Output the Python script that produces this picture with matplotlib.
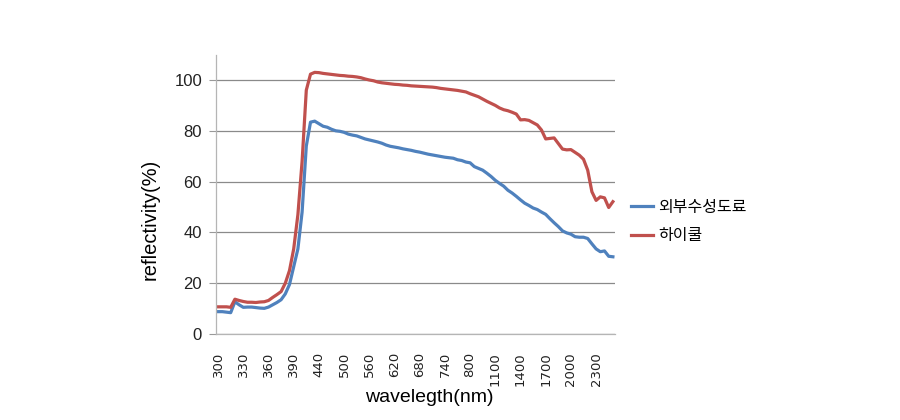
import matplotlib
matplotlib.use('Agg')
import matplotlib.pyplot as plt
import numpy as np

plt.rcParams['font.family'] = ['Liberation Sans', 'Noto Sans CJK KR', 'DejaVu Sans']
plt.rcParams['axes.unicode_minus'] = False

# 파장 (카테고리 축: 300-400 5nm, 410-800 10nm, 850-2500 50nm)
wavelengths = [300, 305, 310, 315, 320, 325, 330, 335, 340, 345, 350, 355, 360, 365, 370, 375, 380, 385, 390, 395, 400,
               410, 420, 430, 440, 450, 460, 470, 480, 490, 500, 510, 520, 530, 540, 550, 560, 570, 580, 590, 600,
               610, 620, 630, 640, 650, 660, 670, 680, 690, 700, 710, 720, 730, 740, 750, 760, 770, 780, 790, 800,
               850, 900, 950, 1000, 1050, 1100, 1150, 1200, 1250, 1300, 1350, 1400, 1450, 1500, 1550, 1600, 1650,
               1700, 1750, 1800, 1850, 1900, 1950, 2000, 2050, 2100, 2150, 2200, 2250, 2300, 2350, 2400, 2450, 2500]

tick_labels = ['300', '330', '360', '390', '440', '500', '560', '620', '680', '740', '800',
               '1100', '1400', '1700', '2000', '2300']

# 외부수성도료 반사율 (%)
paint = [8.8, 8.8, 8.6, 8.4, 12.7, 11.5, 10.5, 10.6, 10.6, 10.4, 10.2, 10.1, 10.6, 11.5, 12.4, 13.5, 15.8, 19.5, 26.5, 33.5,
         48.0, 74.0, 83.4, 83.8, 82.8, 81.8, 81.4, 80.6, 80.0, 79.8, 79.4, 78.7, 78.3, 78.0, 77.4, 76.8, 76.4, 76.0,
         75.6, 75.1, 74.4, 73.9, 73.6, 73.3, 72.9, 72.6, 72.3, 71.9, 71.6, 71.2, 70.8, 70.5, 70.2, 69.9, 69.6, 69.4,
         69.2, 68.6, 68.3, 67.7, 67.4, 65.9, 65.2, 64.5, 63.3, 62.0, 60.5, 59.3, 58.2, 56.6, 55.5, 54.2, 52.8, 51.5,
         50.6, 49.6, 49.0, 48.0, 47.1, 45.4, 43.8, 42.3, 40.6, 39.8, 39.3, 38.3, 38.1, 38.1, 37.6, 35.5, 33.5, 32.4,
         32.7, 30.6, 30.4]

# 하이쿨 반사율 (%)
hicool = [10.7, 10.7, 10.7, 10.5, 13.7, 13.2, 12.8, 12.5, 12.5, 12.4, 12.6, 12.7, 13.2, 14.4, 15.5, 16.7, 20.0, 25.0,
          33.5, 47.0, 68.0, 96.0, 102.3, 103.0, 102.9, 102.6, 102.4, 102.2, 102.0, 101.8, 101.7, 101.5, 101.4, 101.2,
          100.9, 100.4, 100.0, 99.7, 99.2, 98.9, 98.7, 98.5, 98.3, 98.2, 98.0, 97.9, 97.7, 97.6, 97.5, 97.4, 97.3,
          97.2, 97.0, 96.7, 96.5, 96.3, 96.1, 95.9, 95.6, 95.3, 94.6, 94.0, 93.4, 92.5, 91.6, 90.8, 90.0, 89.0, 88.3,
          87.9, 87.3, 86.6, 84.3, 84.4, 84.1, 83.2, 82.3, 80.3, 76.8, 77.0, 77.2, 75.0, 72.8, 72.5, 72.6, 71.5, 70.4,
          68.8, 64.5, 56.0, 52.6, 54.0, 53.6, 49.8, 52.1]

x = np.arange(len(wavelengths))
tick_pos = [wavelengths.index(int(t)) for t in tick_labels]

fig = plt.figure(figsize=(9, 4.2), dpi=100)
ax = fig.add_axes([216 / 900, 1 - 334 / 420, 399 / 900, 279.4 / 420])

ax.plot(x, paint, color='#4F81BD', linewidth=2.3, label='외부수성도료')
ax.plot(x, hicool, color='#C0504D', linewidth=2.3, label='하이쿨')

ax.set_xlim(-0.5, len(wavelengths) - 0.5)
ax.set_ylim(0, 110)
ax.set_yticks([0, 20, 40, 60, 80, 100])
ax.set_xticks(tick_pos)
ax.set_xticklabels(tick_labels, rotation=90, fontsize=9.5, family='DejaVu Sans', color='#222222')
ax.tick_params(axis='x', length=0, pad=13)
ax.tick_params(axis='y', length=5, pad=5, labelsize=12, color='#999999', labelcolor='#222222')

ax.grid(axis='y', color='#8a8a8a', linewidth=0.9)
ax.set_axisbelow(True)
for s in ['top', 'right']:
    ax.spines[s].set_visible(False)
for s in ['left', 'bottom']:
    ax.spines[s].set_color('#b5b5b5')
    ax.spines[s].set_linewidth(0.9)

ax.set_ylabel('reflectivity(%)', fontsize=14.5)
ax.yaxis.set_label_coords((150 - 216) / 399, (334 - 219) / 279.4)
ax.yaxis.label.set_va('center')
ax.set_xlabel('wavelegth(nm)', fontsize=14)
ax.xaxis.set_label_coords((429 - 216) / 399, (334 - 397) / 279.4)
ax.xaxis.label.set_va('center')

fig.legend(loc='upper left', bbox_to_anchor=(631 / 900, 1 - 199 / 420), frameon=False,
           prop={'family': ['Noto Sans CJK KR', 'DejaVu Sans'], 'size': 11.5},
           handlelength=1.4, handletextpad=0.3, labelspacing=0.7, borderpad=0, borderaxespad=0)

plt.savefig('out.png', dpi=100)
